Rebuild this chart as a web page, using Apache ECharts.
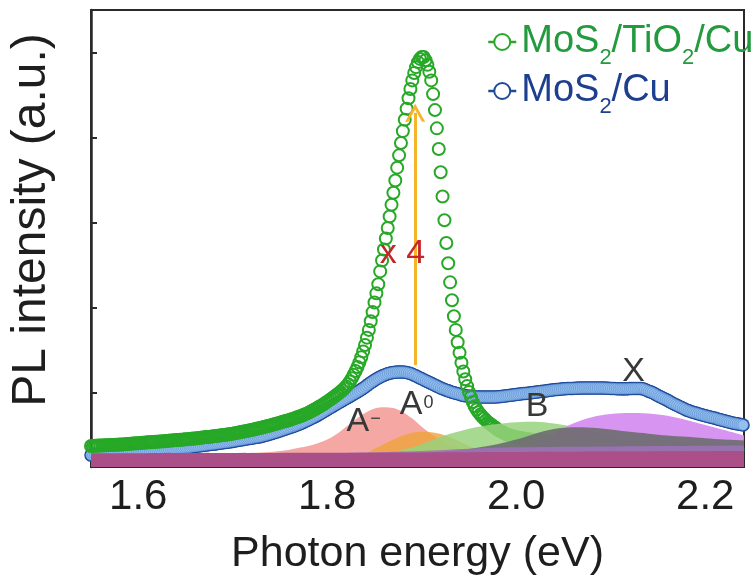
<!DOCTYPE html>
<html><head><meta charset="utf-8">
<script src="https://cdn.jsdelivr.net/npm/echarts@6/dist/echarts.min.js"></script>
<style>html,body{margin:0;padding:0;background:#fff}#c{width:753px;height:581px}</style>
</head><body><div id="c"></div>
<script>
// ---- data ----
const energy = [
1.550,1.552,1.554,1.556,1.558,1.560,1.562,1.564,1.566,1.568,
1.570,1.572,1.574,1.576,1.578,1.580,1.582,1.584,1.586,1.588,
1.590,1.592,1.594,1.596,1.598,1.600,1.602,1.604,1.606,1.608,
1.610,1.612,1.614,1.616,1.618,1.620,1.622,1.624,1.626,1.628,
1.630,1.632,1.634,1.636,1.638,1.640,1.642,1.644,1.646,1.648,
1.650,1.652,1.654,1.656,1.658,1.660,1.662,1.664,1.666,1.668,
1.670,1.672,1.674,1.676,1.678,1.680,1.682,1.684,1.686,1.688,
1.690,1.692,1.694,1.696,1.698,1.700,1.702,1.704,1.706,1.708,
1.710,1.712,1.714,1.716,1.718,1.720,1.722,1.724,1.726,1.728,
1.730,1.732,1.734,1.736,1.738,1.740,1.742,1.744,1.746,1.748,
1.750,1.752,1.754,1.756,1.758,1.760,1.762,1.764,1.766,1.768,
1.770,1.772,1.774,1.776,1.778,1.780,1.782,1.784,1.786,1.788,
1.790,1.792,1.794,1.796,1.798,1.800,1.802,1.804,1.806,1.808,
1.810,1.812,1.814,1.816,1.818,1.820,1.822,1.824,1.826,1.828,
1.830,1.832,1.834,1.836,1.838,1.840,1.842,1.844,1.846,1.848,
1.850,1.852,1.854,1.856,1.858,1.860,1.862,1.864,1.866,1.868,
1.870,1.872,1.874,1.876,1.878,1.880,1.882,1.884,1.886,1.888,
1.890,1.892,1.894,1.896,1.898,1.900,1.902,1.904,1.906,1.908,
1.910,1.912,1.914,1.916,1.918,1.920,1.922,1.924,1.926,1.928,
1.930,1.932,1.934,1.936,1.938,1.940,1.942,1.944,1.946,1.948,
1.950,1.952,1.954,1.956,1.958,1.960,1.962,1.964,1.966,1.968,
1.970,1.972,1.974,1.976,1.978,1.980,1.982,1.984,1.986,1.988,
1.990,1.992,1.994,1.996,1.998,2.000,2.002,2.004,2.006,2.008,
2.010,2.012,2.014,2.016,2.018,2.020,2.022,2.024,2.026,2.028,
2.030,2.032,2.034,2.036,2.038,2.040,2.042,2.044,2.046,2.048,
2.050,2.052,2.054,2.056,2.058,2.060,2.062,2.064,2.066,2.068,
2.070,2.072,2.074,2.076,2.078,2.080,2.082,2.084,2.086,2.088,
2.090,2.092,2.094,2.096,2.098,2.100,2.102,2.104,2.106,2.108,
2.110,2.112,2.114,2.116,2.118,2.120,2.122,2.124,2.126,2.128,
2.130,2.132,2.134,2.136,2.138,2.140,2.142,2.144,2.146,2.148,
2.150,2.152,2.154,2.156,2.158,2.160,2.162,2.164,2.166,2.168,
2.170,2.172,2.174,2.176,2.178,2.180,2.182,2.184,2.186,2.188,
2.190,2.192,2.194,2.196,2.198,2.200,2.202,2.204,2.206,2.208,
2.210,2.212,2.214,2.216,2.218,2.220,2.222,2.224,2.226,2.228,
2.230,2.232,2.234,2.236,2.238,2.240];

// MoS2/TiO2/Cu (green hollow circles)
const greenI = [
4.60,4.62,4.64,4.66,4.68, 4.70,4.72,4.74,4.76,4.78,
4.80,4.82,4.84,4.86,4.88, 4.90,4.92,4.94,4.97,5.01,
5.05,5.09,5.13,5.16,5.18, 5.20,5.24,5.28,5.32,5.36,
5.40,5.42,5.44,5.47,5.51, 5.55,5.57,5.59,5.62,5.66,
5.70,5.74,5.78,5.82,5.86, 5.90,5.92,5.94,5.97,6.01,
6.05,6.09,6.13,6.17,6.21, 6.25,6.29,6.33,6.38,6.44,
6.50,6.54,6.58,6.63,6.69, 6.75,6.79,6.83,6.88,6.94,
7.00,7.06,7.12,7.18,7.24, 7.30,7.38,7.46,7.54,7.62,
7.70,7.78,7.86,7.94,8.02, 8.10,8.20,8.30,8.40,8.50,
8.60,8.70,8.80,8.90,9.00, 9.10,9.22,9.34,9.46,9.58,
9.70,9.82,9.94,10.06,10.18, 10.30,10.44,10.58,10.72,10.86,
11.00,11.16,11.32,11.49,11.67, 11.85,12.07,12.29,12.52,12.76,
13.00,13.24,13.48,13.74,14.02, 14.30,14.58,14.86,15.16,15.48,
15.80,16.12,16.44,16.78,17.18, 17.60,18.12,18.70,19.40,20.20,
21.00,21.90,22.90,24.00,25.30, 26.70,28.30,30.00,31.90,33.90,
36.00,38.0,40.0,42.8,45.2, 47.6,50.0,52.3,54.8,57.4,
60.0,62.7,65.5,68.2,70.9, 73.5,76.0,78.4,80.7,82.7,
84.6,86.2,87.5,88.6,89.3, 89.7,89.7,89.0,88.0,86.5,
84.6,81.6,78.1,74.1,69.6, 64.5,59.2,54.0,49.0,44.6,
40.4,36.5,33.0,30.0,27.3, 25.0,22.8,20.9,19.2,17.7,
16.4,15.3,14.2,13.3,12.6, 12.0,11.5,11.0,10.6,10.2,
9.8,9.5,9.2,8.9,8.6, 8.2,7.95,7.75,7.55,7.35,
7.1,6.98,6.86,6.74,6.62, 6.5,6.42,6.34,6.27,6.21,
6.15,6.09,6.03,5.97,5.91, 5.85,5.79,5.73,5.68,5.64,
5.6,5.56,5.52,5.49,5.47, 5.45,5.43,5.41,5.38,5.34,
5.3,5.28,5.26,5.22,5.18, 5.15,5.13,5.11,5.08,5.04,
5.0,4.98,4.96,4.94,4.92, 4.9,4.88,4.86,4.84,4.82,
4.8,4.78,4.76,4.74,4.72, 4.7,4.68,4.66,4.64,4.62,
4.6,4.58,4.56,4.54,4.52, 4.5,4.48,4.46,4.44,4.42,
4.4,4.38,4.36,4.34,4.32, 4.3,4.3,4.29,4.28,4.27,
4.25,4.23,4.21,4.19,4.17, 4.15,4.13,4.11,4.09,4.07,
4.05,4.03,4.01,4.0,4.0, 4.0,3.98,3.96,3.94,3.92,
3.9,3.9,3.9,3.89,3.87, 3.85,3.85,3.85,3.84,3.82,
3.8,3.8,3.8,3.79,3.77, 3.75,3.75,3.75,3.74,3.72,
3.7,3.7,3.7,null,null, null];

// MoS2/Cu (blue filled circles)
const blueI = [
2.60,2.64,2.68,2.72,2.76, 2.80,2.82,2.84,2.87,2.91,
2.95,2.99,3.03,3.06,3.08, 3.10,3.14,3.18,3.22,3.26,
3.30,3.32,3.34,3.36,3.38, 3.40,3.44,3.48,3.51,3.53,
3.55,3.57,3.59,3.62,3.66, 3.70,3.72,3.74,3.77,3.81,
3.85,3.89,3.93,3.97,4.01, 4.05,4.09,4.13,4.17,4.21,
4.25,4.29,4.33,4.38,4.44, 4.50,4.54,4.58,4.63,4.69,
4.75,4.81,4.87,4.92,4.96, 5.00,5.06,5.12,5.18,5.24,
5.30,5.36,5.42,5.48,5.54, 5.60,5.68,5.76,5.83,5.89,
5.95,6.03,6.11,6.18,6.24, 6.30,6.38,6.46,6.53,6.59,
6.65,6.77,6.89,7.01,7.13, 7.25,7.37,7.49,7.62,7.76,
7.90,8.04,8.18,8.32,8.46, 8.60,8.74,8.88,9.03,9.19,
9.35,9.53,9.71,9.90,10.10, 10.30,10.50,10.70,10.91,11.13,
11.35,11.59,11.83,12.08,12.34, 12.60,12.84,13.08,13.32,13.56,
13.80,14.04,14.28,14.52,14.76, 15.00,15.24,15.48,15.72,15.96,
16.20,16.44,16.68,16.94,17.22, 17.50,17.82,18.14,18.44,18.72,
19.00,19.24,19.48,19.70,19.90, 20.10,20.26,20.42,20.54,20.62,
20.70,20.74,20.78,20.80,20.80, 20.80,20.76,20.68,20.58,20.46,
20.30,20.10,19.90,19.70,19.50, 19.30,19.10,18.90,18.70,18.50,
18.30,18.10,17.90,17.70,17.50, 17.30,17.14,16.98,16.82,16.66,
16.50,16.38,16.26,16.14,16.02, 15.90,15.78,15.66,15.58,15.54,
15.50,15.46,15.42,15.38,15.34, 15.30,15.30,15.30,15.30,15.30,
15.30,15.30,15.30,15.30,15.32, 15.35,15.39,15.43,15.48,15.54,
15.60,15.64,15.68,15.74,15.80, 15.85,15.91,15.97,16.03,16.07,
16.10,16.14,16.18,16.24,16.30, 16.35,16.41,16.47,16.52,16.56,
16.60,16.66,16.72,16.78,16.84, 16.90,16.94,16.98,17.02,17.06,
17.10,17.14,17.18,17.20,17.20, 17.20,17.22,17.24,17.26,17.28,
17.30,17.30,17.30,17.30,17.30, 17.30,17.30,17.30,17.30,17.30,
17.30,17.28,17.26,17.24,17.22, 17.20,17.18,17.16,17.14,17.12,
17.10,17.10,17.10,17.10,17.12, 17.15,17.17,17.19,17.20,17.20,
17.20,17.16,17.10,16.96,16.78, 16.60,16.44,16.28,16.08,15.84,
15.60,15.40,15.20,15.00,14.80, 14.60,14.36,14.12,13.90,13.70,
13.50,13.30,13.10,12.90,12.70, 12.50,12.34,12.18,12.04,11.92,
11.80,11.68,11.56,11.44,11.32, 11.20,11.10,11.00,10.90,10.80,
10.70,10.58,10.46,10.34,10.22, 10.10,10.00,9.90,9.80,9.70,
9.60,9.52,9.44,9.36,9.28, 9.20];

// fitted components (filled areas)
const aMinusE = [1.70,1.72,1.74,1.76,1.77,1.78,1.79,1.80,1.81,1.82,1.83,1.84,1.85,1.86,1.87,1.88,1.89,1.90,1.91,1.92,1.93,1.94,1.95,1.96,1.98];
const aMinusI = [2.8,3.1,3.3,3.8,4.2,4.6,5.2,6.0,7.2,8.8,10.4,11.8,12.8,13.1,12.9,12.0,10.6,8.8,7.2,5.9,4.8,4.0,3.4,3.1,2.8];
const aZeroE = [1.82,1.84,1.85,1.86,1.87,1.88,1.89,1.90,1.91,1.92,1.93,1.94,1.95,1.96,1.97,1.99];
const aZeroI = [2.8,3.0,4.0,5.0,6.0,6.9,7.5,7.7,7.6,7.2,6.5,5.6,4.6,3.8,3.2,2.8];
const bE = [1.84,1.86,1.88,1.90,1.92,1.94,1.96,1.98,2.00,2.02,2.04,2.06,2.08,2.10,2.12,2.14,2.16,2.18];
const bI = [2.8,3.0,3.8,5.0,6.6,7.8,8.8,9.4,9.8,9.9,9.5,8.8,7.9,6.8,5.6,4.4,3.4,2.8];
const xE = [1.96,1.98,2.00,2.02,2.04,2.06,2.08,2.10,2.12,2.14,2.16,2.18,2.20,2.22,2.241];
const xI = [2.8,3.0,4.0,5.4,7.3,9.5,10.9,11.6,11.8,11.7,11.2,10.3,9.2,8.1,6.9];
const grayE = [1.88,1.90,1.94,1.98,2.00,2.02,2.04,2.06,2.08,2.10,2.12,2.14,2.16,2.18,2.20,2.22,2.241];
const grayI = [2.8,3.0,3.7,5.0,6.0,7.3,8.3,8.7,8.6,8.2,7.7,7.3,6.9,6.6,6.3,6.0,5.8];
const lavE = [1.80,1.90,1.95,2.00,2.10,2.241];
const lavI = [3.0,3.5,4.0,4.3,4.5,4.7];
const baseE = [1.55,1.80,2.00,2.241];
const baseI = [3.0,3.1,3.3,3.5];

const xTickValues = [1.6, 1.8, 2.0, 2.2];
const yTickValues = [16.2, 34.8, 53.4, 72.0, 90.6];
const seriesNames = ['MoS2/TiO2/Cu', 'MoS2/Cu'];
const arrowE = 1.893, arrowFrom = 22.3, arrowTo = 77.5;

// ---- chart ----
const FONT = '"Liberation Sans", Arial, Helvetica, sans-serif';
const pairs = (e, v) => e.map((x, i) => [x, v[i]]);
const chart = echarts.init(document.getElementById('c'), null, {renderer: 'canvas'});

function fill(name, e, v, color, opacity, z) {
  return {
    name: name, type: 'line', data: pairs(e, v), smooth: 0.35, symbol: 'none',
    lineStyle: {width: 0}, areaStyle: {color: color, opacity: opacity},
    z: z, silent: true, legendHoverLink: false
  };
}
const labelColor = '#383838';
const supRich = {
  m: {fontSize: 34, lineHeight: 34, color: labelColor, fontFamily: FONT, verticalAlign: 'bottom'},
  p: {fontSize: 18, lineHeight: 18, color: labelColor, fontFamily: FONT, verticalAlign: 'top', padding: [6, 0, 0, 1]}
};
const mp = (coord, text, extra) => ({coord: coord, symbolSize: 1, itemStyle: {color: 'rgba(0,0,0,0)'},
  label: Object.assign({show: true, position: 'inside', formatter: text, rich: supRich, fontFamily: FONT, fontSize: 34, color: labelColor}, extra || {})});

const baseSeries = fill('base', baseE, baseI, '#aa4f88', 1, 9);
baseSeries.markPoint = {
  symbol: 'rect', silent: true, animation: false,
  data: [
    mp([1.8385, 10.0], '{m|A}{p|−}'),
    mp([1.8945, 13.65], '{m|A}{p|0}'),
    mp([2.022, 13.3], 'B'),
    mp([2.1242, 20.8], 'X'),
    mp([1.8796, 46.6], 'x 4', {fontSize: 34, color: '#c4242a'})
  ]
};
baseSeries.markLine = {
  silent: true, animation: false,
  symbol: ['none', 'path://M0,22 L11,0 L22,22 L18.5,22 L11,7 L3.5,22 Z'],
  symbolSize: [20, 18],
  lineStyle: {color: '#f5b42a', width: 3, type: 'solid'},
  label: {show: false},
  data: [[{coord: [arrowE, arrowFrom]}, {coord: [arrowE, arrowTo]}]]
};

const option = {
  animation: false,
  backgroundColor: '#ffffff',
  grid: {left: 91, right: 9, top: 10, bottom: 114, show: true, borderColor: '#2a2a2a', borderWidth: 2, backgroundColor: 'transparent'},
  graphic: [{
    type: 'text', x: 31.5, y: 220, rotation: Math.PI / 2, silent: true,
    style: {text: 'PL intensity (a.u.)', font: '48px ' + FONT, fill: '#1e1e1e',
      align: 'center', verticalAlign: 'middle', textAlign: 'center', textVerticalAlign: 'middle'}
  }],
  legend: {
    orient: 'vertical', left: 482, top: 18, itemGap: 3, itemWidth: 28, itemHeight: 20,
    data: [
      {name: seriesNames[0], itemStyle: {color: '#ffffff', borderColor: '#27a827', borderWidth: 2}},
      {name: seriesNames[1], itemStyle: {color: '#ffffff', borderColor: '#1f4a9a', borderWidth: 2}}
    ],
    selectedMode: false,
    lineStyle: {width: 2.5},
    formatter: function (name) {
      return name === seriesNames[0]
        ? '{g|MoS}{gs|2}{g|/TiO}{gs|2}{g|/Cu}'
        : '{b|MoS}{bs|2}{b|/Cu}';
    },
    textStyle: {
      rich: {
        g: {fontSize: 38, lineHeight: 54, verticalAlign: 'middle', color: '#239a3e', fontFamily: FONT},
        gs: {fontSize: 22, lineHeight: 22, verticalAlign: 'bottom', color: '#239a3e', fontFamily: FONT},
        b: {fontSize: 38, lineHeight: 54, verticalAlign: 'middle', color: '#1e3f8e', fontFamily: FONT},
        bs: {fontSize: 22, lineHeight: 22, verticalAlign: 'bottom', color: '#1e3f8e', fontFamily: FONT}
      }
    }
  },
  xAxis: {
    type: 'value', min: 1.55, max: 2.241,
    name: 'Photon energy (eV)', nameLocation: 'middle', nameGap: 66,
    nameTextStyle: {fontSize: 43, color: '#1e1e1e', fontFamily: FONT},
    axisLine: {show: true, lineStyle: {color: '#2a2a2a', width: 2}},
    axisTick: {show: true, inside: true, length: 5, customValues: xTickValues, lineStyle: {color: '#5a3050', width: 1.5}},
    axisLabel: {show: true, customValues: xTickValues, margin: 9, fontSize: 42, color: '#1e1e1e', fontFamily: FONT,
      formatter: v => v.toFixed(1)},
    splitLine: {show: false}
  },
  yAxis: {
    type: 'value', min: 0, max: 100,
    axisLine: {show: true, lineStyle: {color: '#2a2a2a', width: 2.5}},
    axisTick: {show: true, inside: true, length: 6, customValues: yTickValues, lineStyle: {color: '#2a2a2a', width: 2}},
    axisLabel: {show: false},
    splitLine: {show: false}
  },
  series: [
    {
      // dark rim of the blue circle band
      name: seriesNames[1], type: 'line', data: pairs(energy, blueI), z: 2,
      symbol: 'circle', symbolSize: 13.5, showSymbol: true, showAllSymbol: true,
      lineStyle: {width: 0, color: '#1f4a9a'},
      itemStyle: {color: '#1f4a9a'},
      emphasis: {disabled: true}
    },
    {
      // light interior of the blue circle band
      name: 'MoS2/Cu (fill)', type: 'line', data: pairs(energy, blueI), z: 2,
      symbol: 'circle', symbolSize: 10.5, showSymbol: true, showAllSymbol: true,
      lineStyle: {width: 0},
      itemStyle: {color: '#92bfee', borderColor: '#4d7cc6', borderWidth: 0.5},
      emphasis: {disabled: true}
    },
    {
      name: seriesNames[0], type: 'line', data: pairs(energy, greenI), z: 3,
      symbol: 'circle', symbolSize: 12, showSymbol: true, showAllSymbol: true,
      lineStyle: {width: 0, color: '#2aa52a'},
      itemStyle: {color: 'rgba(255,255,255,0)', borderColor: '#27a827', borderWidth: 2},
      emphasis: {disabled: true}
    },
    fill('A-', aMinusE, aMinusI, '#f4a19b', 0.92, 4),
    fill('A0', aZeroE, aZeroI, '#f0a23a', 0.8, 5),
    fill('B', bE, bI, '#98d27c', 0.85, 6),
    fill('X', xE, xI, '#d48bf0', 0.92, 7),
    fill('G', grayE, grayI, '#6f6e72', 0.92, 8),
    fill('L', lavE, lavI, '#9d72b8', 0.85, 8),
    baseSeries
  ]
};
chart.setOption(option);
</script>
</body></html>
